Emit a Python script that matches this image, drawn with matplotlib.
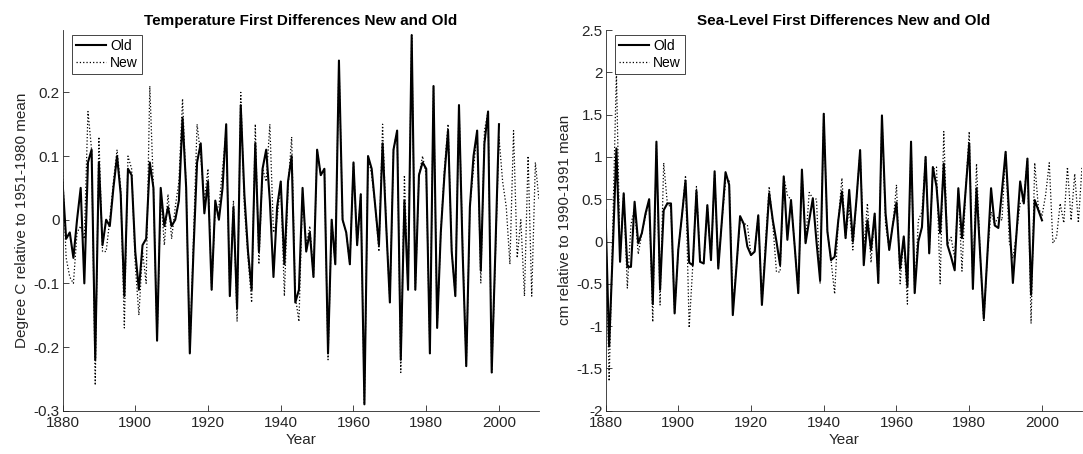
import matplotlib
matplotlib.use("Agg")
import matplotlib.pyplot as plt
import numpy as np

plt.rcParams['font.family'] = ['Liberation Sans', 'DejaVu Sans']

# ---------------- data ----------------
temp_old_years = list(range(1880, 2001))
temp_old = [0.06, -0.03, -0.02, -0.06, 0.00, 0.05, -0.10, 0.09, 0.11, -0.22,
            0.09, -0.04, 0.00, -0.01, 0.05, 0.10, 0.04, -0.12, 0.08, 0.07,
            -0.05, -0.11, -0.04, -0.03, 0.09, 0.05, -0.19, 0.05, -0.01, 0.02,
            -0.01, 0.00, 0.03, 0.16, 0.05, -0.21, -0.05, 0.09, 0.12, 0.01,
            0.06, -0.11, 0.03, 0.00, 0.05, 0.15, -0.12, 0.02, -0.14, 0.18,
            0.04, -0.05, -0.11, 0.12, -0.05, 0.08, 0.11, 0.03, -0.09, 0.02,
            0.06, -0.07, 0.06, 0.10, -0.13, -0.11, 0.05, -0.05, -0.02, -0.09,
            0.11, 0.07, 0.08, -0.21, 0.00, -0.07, 0.25, 0.00, -0.02, -0.07,
            0.09, -0.04, 0.04, -0.29, 0.10, 0.08, 0.02, -0.04, 0.12, -0.01,
            -0.13, 0.11, 0.14, -0.22, 0.03, -0.11, 0.29, -0.11, 0.07, 0.09,
            0.08, -0.21, 0.21, -0.17, -0.02, 0.07, 0.14, -0.05, -0.12, 0.18,
            -0.05, -0.23, 0.02, 0.10, 0.14, -0.08, 0.12, 0.17, -0.24, -0.05,
            0.15]
temp_new_years = list(range(1880, 2012))
temp_new = [0.08, -0.06, -0.09, -0.10, -0.02, -0.01, -0.03, 0.17, 0.11, -0.26,
            0.13, -0.05, -0.05, 0.00, 0.06, 0.11, 0.05, -0.17, 0.10, 0.08,
            -0.07, -0.15, -0.05, -0.10, 0.21, 0.05, -0.19, 0.04, -0.04, 0.04,
            -0.03, 0.02, 0.06, 0.19, 0.05, -0.21, -0.03, 0.15, 0.10, 0.03,
            0.08, -0.11, 0.02, 0.02, 0.08, 0.14, -0.12, 0.03, -0.16, 0.20,
            0.02, -0.06, -0.13, 0.15, -0.07, 0.08, 0.06, 0.15, -0.02, 0.00,
            0.06, -0.12, 0.05, 0.13, -0.12, -0.16, 0.04, -0.04, -0.01, -0.09,
            0.11, 0.07, 0.08, -0.22, 0.00, -0.07, 0.25, 0.00, -0.02, -0.07,
            0.09, -0.04, 0.04, -0.29, 0.10, 0.07, 0.02, -0.05, 0.15, -0.01,
            -0.13, 0.11, 0.14, -0.24, 0.07, -0.11, 0.29, -0.11, 0.07, 0.10,
            0.07, -0.21, 0.21, -0.17, -0.02, 0.08, 0.15, -0.05, -0.12, 0.18,
            -0.04, -0.23, 0.02, 0.08, 0.14, -0.10, 0.14, 0.17, -0.24, -0.06,
            0.13, 0.06, 0.02, -0.07, 0.14, -0.06, 0.00, -0.12, 0.10, -0.12,
            0.09, 0.03]

sea_old_years = list(range(1880, 2001))
sea_old = [0.37, -1.24, -0.10, 1.10, -0.24, 0.57, -0.30, -0.30, 0.47, -0.02,
           0.10, 0.33, 0.50, -0.74, 1.18, -0.57, 0.37, 0.45, 0.45, -0.85,
           -0.10, 0.30, 0.72, -0.25, -0.28, 0.60, -0.24, -0.26, 0.43, -0.22,
           0.83, -0.32, 0.25, 0.82, 0.67, -0.87, -0.30, 0.30, 0.21, -0.06,
           -0.16, -0.12, 0.31, -0.75, -0.10, 0.57, 0.25, 0.00, -0.28, 0.77,
           0.02, 0.49, -0.05, -0.61, 0.85, -0.02, 0.25, 0.51, 0.00, -0.46,
           1.51, 0.12, -0.22, -0.18, 0.25, 0.59, 0.04, 0.61, 0.00, 0.50,
           1.08, -0.28, 0.25, -0.10, 0.33, -0.49, 1.49, 0.33, -0.10, 0.20,
           0.46, -0.32, 0.06, -0.53, 1.18, -0.61, 0.00, 0.17, 1.00, -0.14,
           0.88, 0.65, 0.10, 0.92, -0.04, -0.18, -0.34, 0.63, 0.04, 0.60,
           1.16, -0.56, 0.63, -0.15, -0.91, -0.15, 0.63, 0.19, 0.16, 0.60,
           1.06, 0.30, -0.49, 0.10, 0.71, 0.45, 0.98, -0.63, 0.49, 0.37,
           0.25]
sea_new_years = list(range(1880, 2012))
sea_new = [0.37, -1.65, 0.20, 2.00, -0.20, 0.57, -0.55, 0.20, 0.40, -0.15,
           0.10, 0.30, 0.50, -0.95, 1.15, -0.75, 0.93, 0.45, 0.40, -0.85,
           -0.10, 0.30, 0.78, -1.02, -0.28, 0.65, -0.24, -0.26, 0.43, -0.22,
           0.80, -0.30, 0.25, 0.70, 0.73, -0.75, -0.30, 0.25, 0.21, 0.20,
           -0.16, -0.12, 0.31, -0.75, 0.00, 0.65, 0.20, -0.36, -0.36, 0.77,
           0.55, 0.49, -0.05, -0.61, 0.85, -0.02, 0.58, 0.51, 0.50, -0.50,
           1.51, 0.12, -0.22, -0.62, 0.25, 0.75, 0.04, 0.40, -0.10, 0.50,
           1.08, -0.10, 0.45, -0.25, 0.33, -0.49, 1.49, 0.20, -0.10, 0.20,
           0.67, -0.50, 0.06, -0.74, 1.18, -0.61, 0.25, 0.35, 1.00, -0.14,
           0.85, 0.88, -0.50, 1.30, -0.04, 0.05, -0.20, 0.60, -0.35, 0.60,
           1.30, -0.56, 0.92, -0.15, -0.95, -0.15, 0.35, 0.20, 0.30, 0.25,
           1.06, 0.00, -0.20, 0.10, 0.45, 0.50, 0.98, -0.97, 0.93, 0.40,
           0.30, 0.55, 0.93, -0.02, 0.05, 0.45, 0.22, 0.88, 0.25, 0.80,
           0.22, 0.88]

x_ticks = [1880, 1900, 1920, 1940, 1960, 1980, 2000]
temp_yticks = [-0.3, -0.2, -0.1, 0, 0.1, 0.2]
temp_yticklabels = ['-0.3', '-0.2', '-0.1', '0', '0.1', '0.2']
sea_yticks = [-2, -1.5, -1, -0.5, 0, 0.5, 1, 1.5, 2, 2.5]
sea_yticklabels = ['-2', '-1.5', '-1', '-0.5', '0', '0.5', '1', '1.5', '2', '2.5']

# ---------------- figure ----------------
W, H = 1083, 454
fig = plt.figure(figsize=(W / 100, H / 100), dpi=100)
axc = (0.15, 0.15, 0.15)

def setup(ax, title, ylabel, yticks, yticklabels, ylim):
    ax.set_xlim(1880, 2011)
    ax.set_ylim(*ylim)
    ax.set_xticks(x_ticks)
    ax.set_xticklabels([str(t) for t in x_ticks])
    ax.set_yticks(yticks)
    ax.set_yticklabels(yticklabels)
    for s in ['top', 'right']:
        ax.spines[s].set_visible(False)
    for s in ['left', 'bottom']:
        ax.spines[s].set_color(axc)
        ax.spines[s].set_linewidth(0.6)
    ax.tick_params(direction='in', length=4, width=0.6, colors=axc,
                   labelsize=11)
    ax.tick_params(axis='x', pad=4)
    ax.tick_params(axis='y', pad=2)
    ax.set_title(title, fontsize=11, fontweight='bold', pad=3.5)
    ax.set_xlabel('Year', fontsize=11, color=axc, labelpad=2)
    ax.set_ylabel(ylabel, fontsize=11, color=axc, labelpad=3)

axw = (539 - 62.5) / W
y0 = (H - 410.7) / H
hh = (410.7 - 30) / H
ax1 = fig.add_axes([62.5 / W, y0, axw, hh])
ax2 = fig.add_axes([605.5 / W, y0, axw, hh])

for ax, (yo, vo, yn, vn) in zip(
        [ax1, ax2],
        [(temp_old_years, temp_old, temp_new_years, temp_new),
         (sea_old_years, sea_old, sea_new_years, sea_new)]):
    ax.plot(yo, vo, color='black', lw=1.5, ls='-', label='Old')
    ax.plot(yn, vn, color='black', lw=0.9, ls=':', label='New')

setup(ax1, 'Temperature First Differences New and Old',
      'Degree C relative to 1951-1980 mean',
      temp_yticks, temp_yticklabels, (-0.3, 0.298))
setup(ax2, 'Sea-Level First Differences New and Old',
      'cm relative to 1990-1991 mean',
      sea_yticks, sea_yticklabels, (-2, 2.5))

for ax in [ax1, ax2]:
    bb = ax.get_position()
    axpx = bb.width * W
    aypx = bb.height * H
    leg = ax.legend(loc='upper left',
                    bbox_to_anchor=(9.2 / axpx, 1 - 5 / aypx),
                    borderaxespad=0, fontsize=10, handlelength=2.2,
                    handletextpad=0.25, borderpad=0.3, labelspacing=0.2,
                    fancybox=False, framealpha=1)
    leg.get_frame().set_edgecolor(axc)
    leg.get_frame().set_linewidth(0.6)

fig.savefig('out.png', dpi=100)
